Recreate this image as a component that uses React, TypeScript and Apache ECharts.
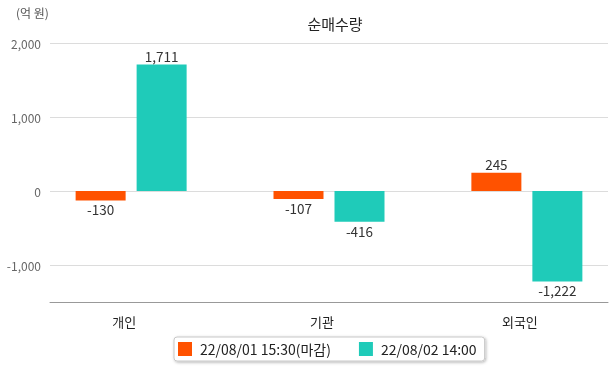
import React, { useEffect, useRef } from "react";
import * as echarts from "echarts";

const categories = ["개인", "기관", "외국인"];
const seriesNames = ["22/08/01 15:30(마감)", "22/08/02 14:00"];
const day1Values = [-130, -107, 245];
const day2Values = [1711, -416, -1222];
const colors = ["#ff5200", "#1fcbb9"];
const yMin = -1500;
const yMax = 2000;

const FONT = '"Noto Sans CJK KR", "Noto Sans", sans-serif';

const fmt = (v: number) => v.toLocaleString("en-US");

export default function App() {
  const ref = useRef<HTMLDivElement>(null);
  useEffect(() => {
    if (!ref.current) return;
    const chart = echarts.init(ref.current, undefined, { renderer: "svg" });
    const mkData = (arr: number[]) =>
      arr.map((v, i) => ({
        value: [i, v],
        label: { position: v < 0 ? "bottom" : "top" },
      }));
    const barLabel = {
      show: true,
      distance: 2,
      fontSize: 13.5,
      color: "#333",
      fontFamily: FONT,
      formatter: (p: any) => fmt(p.value[1]),
    };
    chart.setOption({
      animation: false,
      textStyle: { fontFamily: FONT },
      title: {
        text: "순매수량",
        left: 330,
        textAlign: "center",
        top: 11,
        textStyle: { fontSize: 15, fontWeight: "normal", color: "#222", fontFamily: FONT },
      },
      graphic: [
        {
          type: "text",
          left: 16,
          top: 6,
          style: { text: "(억 원)", fontSize: 12, fill: "#555", fontFamily: FONT },
        },
      ],
      legend: {
        left: 174,
        top: 337,
        padding: [5, 8, 5, 4],
        itemWidth: 14,
        itemHeight: 14,
        itemGap: 28,
        icon: "rect",
        borderColor: "#c8c8c8",
        borderWidth: 1,
        borderRadius: 3,
        backgroundColor: "#fff",
        shadowColor: "rgba(0,0,0,0.3)",
        shadowBlur: 3,
        shadowOffsetX: 1,
        shadowOffsetY: 1,
        textStyle: { fontSize: 14, color: "#222", fontFamily: FONT, padding: [0, 0, 0, 3] },
        data: seriesNames,
      },
      grid: { left: 50, right: 7, top: 43, bottom: 66 },
      xAxis: {
        type: "value",
        min: -0.41,
        max: 2.41,
        axisLine: { show: true, onZero: false, lineStyle: { color: "#999" } },
        axisTick: { show: false },
        splitLine: { show: false },
        axisLabel: {
          customValues: [0, 1, 2],
          fontSize: 13,
          color: "#222",
          margin: 13,
          padding: [0, 14, 0, 0],
          fontFamily: FONT,
          formatter: (v: number) => categories[Math.round(v)] ?? "",
        },
      },
      yAxis: {
        type: "value",
        min: yMin,
        max: yMax,
        interval: 500,
        axisLine: { show: false },
        axisTick: { show: false },
        axisLabel: {
          fontSize: 12,
          color: "#666",
          margin: 9,
          fontFamily: FONT,
          formatter: (v: number) => (v % 1000 === 0 ? fmt(v) : ""),
        },
        splitLine: {
          show: true,
          lineStyle: { color: ["rgba(0,0,0,0)", "#dcdcdc"], width: 1 },
        },
      },
      series: [
        {
          name: seriesNames[0],
          type: "bar",
          barWidth: 50,
          barGap: "22%",
          itemStyle: { color: colors[0] },
          label: barLabel,
          data: mkData(day1Values),
        },
        {
          name: seriesNames[1],
          type: "bar",
          barWidth: 50,
          barGap: "22%",
          itemStyle: { color: colors[1] },
          label: barLabel,
          data: mkData(day2Values),
        },
      ],
    });
    return () => chart.dispose();
  }, []);
  return (
    <div
      ref={ref}
      style={{ position: "fixed", left: 0, top: 0, width: 615, height: 368 }}
    />
  );
}
